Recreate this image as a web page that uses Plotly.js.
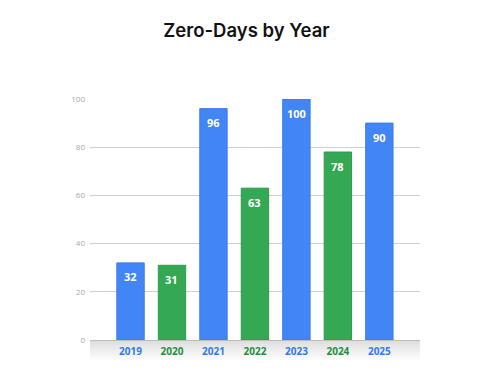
<!DOCTYPE html>
<html>
<head>
<meta charset="utf-8">
<script src="https://cdn.plot.ly/plotly-3.0.1.min.js"></script>
<style>html,body{margin:0;padding:0;background:#fff;}#chart{width:490px;height:373px;}</style>
</head>
<body>
<div id="chart"></div>
<script>
const years = ["2019", "2020", "2021", "2022", "2023", "2024", "2025"];
const zeroDays = [32, 31, 96, 63, 100, 78, 90];
const barColors = ["#4285F4", "#34A853", "#4285F4", "#34A853", "#4285F4", "#34A853", "#4285F4"];
const edgeColors = ["#3C7BE8", "#2E9A4B", "#3C7BE8", "#2E9A4B", "#3C7BE8", "#2E9A4B", "#3C7BE8"];
const labelColors = ["#2F7BEA", "#1E8E3E", "#2F7BEA", "#1E8E3E", "#2F7BEA", "#1E8E3E", "#2F7BEA"];
const yTicks = [0, 20, 40, 60, 80, 100];

const xs = years.map((y, i) => i);

const trace = {
  type: "bar",
  x: xs,
  y: zeroDays,
  width: 0.66,
  marker: { color: barColors, line: { color: edgeColors, width: 1 } },
  hoverinfo: "none"
};

const annotations = zeroDays.map((v, i) => ({
  x: xs[i], y: v, xref: "x", yref: "y",
  text: "<b>" + v + "</b>", showarrow: false,
  yshift: -14,
  font: { family: "'Open Sans', Roboto, sans-serif", size: 11, color: "#ffffff" }
}));

// gradient band below the axis
const shapes = [];
const bandPx = 20, plotH = 241.5, steps = 10;
for (let k = 0; k < steps; k++) {
  const t = k / steps;
  const g = Math.round(222 + (255 - 222) * t);
  shapes.push({
    type: "rect", xref: "paper", yref: "paper", layer: "below",
    x0: 0, x1: 1,
    y0: -(k + 1) * bandPx / steps / plotH, y1: -k * bandPx / steps / plotH,
    fillcolor: `rgb(${g},${g},${g})`, line: { width: 0 }
  });
}

const layout = {
  width: 490, height: 373,
  margin: { l: 90, r: 70, t: 99, b: 32.5 },
  paper_bgcolor: "#ffffff", plot_bgcolor: "#ffffff",
  title: {
    text: "Zero-Days by Year",
    x: 246.5 / 490, xref: "container", xanchor: "center",
    y: 1 - 31 / 373, yref: "container", yanchor: "middle",
    font: { family: "Inter, 'Open Sans', sans-serif", size: 18.5, weight: 600, color: "#111111" }
  },
  showlegend: false,
  xaxis: {
    range: [-0.977, 6.98],
    tickvals: xs,
    ticktext: years.map((y, i) => `<span style="color:${labelColors[i]}"><b>${y}</b></span>`),
    tickfont: { family: "'Open Sans', Roboto, sans-serif", size: 10 },
    showgrid: false, zeroline: false, showline: false, ticks: "",
    ticklabelstandoff: 4,
    fixedrange: true
  },
  yaxis: {
    range: [0, 100],
    tickvals: yTicks,
    ticktext: yTicks.map(String),
    tickfont: { family: "'Open Sans', Roboto, sans-serif", size: 8, color: "#A8A8A8" },
    showgrid: true, gridcolor: "#D0D0D0", gridwidth: 1,
    zeroline: true, zerolinecolor: "#BDBDBD", zerolinewidth: 1,
    showline: false, ticks: "",
    ticklabelstandoff: 4,
    fixedrange: true
  },
  annotations: annotations,
  shapes: shapes
};

Plotly.newPlot("chart", [trace], layout, { displayModeBar: false, staticPlot: true });
</script>
</body>
</html>
